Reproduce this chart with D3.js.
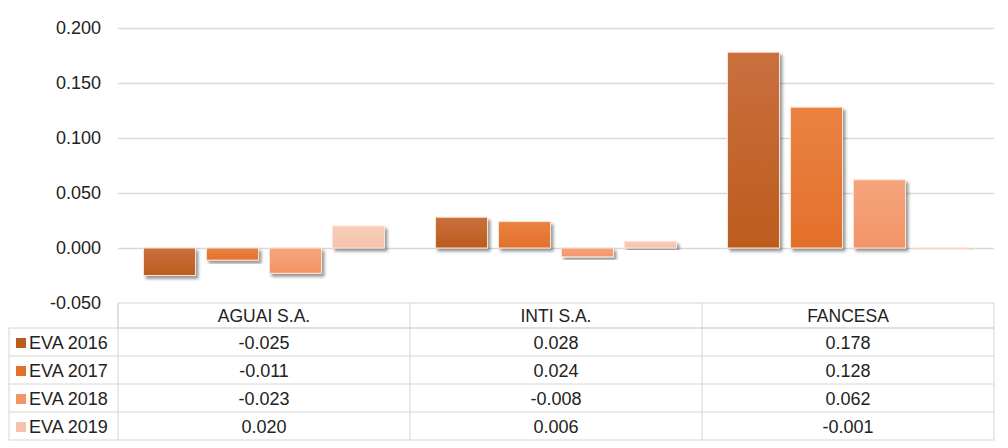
<!DOCTYPE html>
<html><head><meta charset="utf-8">
<script src="https://cdn.jsdelivr.net/npm/d3@7"></script>
<style>body{margin:0;background:#fff}svg{display:block;font-family:"Liberation Sans",Arial,sans-serif}</style>
</head><body><svg id="c" width="1008" height="448"></svg>
<script>
const categories = ["AGUAI S.A.", "INTI S.A.", "FANCESA"];
const seriesNames = ["EVA 2016", "EVA 2017", "EVA 2018", "EVA 2019"];
const eva2016 = [-0.025, 0.028, 0.178];
const eva2017 = [-0.011, 0.024, 0.128];
const eva2018 = [-0.023, -0.008, 0.062];
const eva2019 = [0.020, 0.006, -0.001];
const yTicks = [-0.05, 0, 0.05, 0.1, 0.15, 0.2];
const colors = ["#bc5c1e", "#e3702a", "#f39467", "#f5c2ab"];
const colorsLight = ["#c9703f", "#ea8242", "#f5a47d", "#f7cdb9"];

(function(){
const series = [eva2016, eva2017, eva2018, eva2019];
const svg = d3.select("#c");
const fmt = v => d3.format(".3f")(v).replace("\u2212", "-");
const pLeft = 118, pRight = 994, pTop = 28, pBottom = 303;
const x0 = d3.scaleBand().domain(categories).range([pLeft, pRight]);
const x1 = d3.scaleBand().domain(seriesNames).range([0, x0.bandwidth()]).paddingInner(0.175).paddingOuter(0.405);
const y = d3.scaleLinear().domain([-0.05, 0.2]).range([pBottom, pTop]);

const defs = svg.append("defs");
const f = defs.append("filter").attr("id","sh").attr("x","-20%").attr("y","-20%").attr("width","150%").attr("height","150%");
f.append("feDropShadow").attr("dx",2.5).attr("dy",3).attr("stdDeviation",1.8).attr("flood-color","#000").attr("flood-opacity",0.4);
colors.forEach((c,i)=>{
  const g = defs.append("linearGradient").attr("id","g"+i).attr("x1","0").attr("y1","0").attr("x2","0").attr("y2","1");
  g.append("stop").attr("offset","0").attr("stop-color",colorsLight[i]);
  g.append("stop").attr("offset","1").attr("stop-color",c);
});

const yAxis = d3.axisLeft(y).tickValues(yTicks).tickFormat(fmt).tickSize(-(pRight-pLeft)).tickPadding(17);
const ga = svg.append("g").attr("transform",`translate(${pLeft},0)`).call(yAxis);
ga.select(".domain").remove();
ga.selectAll(".tick line").attr("stroke","#d9d9d9").attr("stroke-width",1.3);
ga.selectAll(".tick").filter(d=>d===-0.05).select("line").remove();
ga.selectAll(".tick text").attr("font-size",18).attr("fill","#222").attr("font-family","Liberation Sans, Arial, sans-serif");

const data = [];
categories.forEach((c,ci)=>series.forEach((s,si)=>data.push({c, s:seriesNames[si], si, v:s[ci]})));
svg.append("g").selectAll("rect").data(data).join("rect")
  .attr("x", d=>x0(d.c)+x1(d.s))
  .attr("width", x1.bandwidth())
  .attr("y", d=>y(Math.max(0,d.v)))
  .attr("height", d=>Math.max(1.5, Math.abs(y(d.v)-y(0))))
  .attr("fill", d=>`url(#g${d.si})`)
  .attr("stroke", "#fde3d2").attr("stroke-width",1)
  .attr("filter","url(#sh)");

const rowH = 28, headTop = 303, headH = 25, tblLeft = 9;
const tg = svg.append("g");
const lineC = "#d6d6d6";
tg.append("rect").attr("x",pLeft).attr("y",headTop).attr("width",pRight-pLeft).attr("height",headH).attr("fill","none").attr("stroke",lineC);
tg.append("rect").attr("x",tblLeft).attr("y",headTop+headH).attr("width",pRight-tblLeft).attr("height",rowH*4).attr("fill","none").attr("stroke",lineC);
categories.forEach((c,ci)=>{
  if(ci>0) tg.append("line").attr("x1",x0(c)).attr("x2",x0(c)).attr("y1",headTop).attr("y2",headTop+headH+rowH*4).attr("stroke",lineC);
  tg.append("text").attr("x",x0(c)+x0.bandwidth()/2).attr("y",headTop+headH/2+6.5).attr("text-anchor","middle").attr("font-size",17.5).attr("fill","#222").text(c);
});
tg.append("line").attr("x1",pLeft).attr("x2",pLeft).attr("y1",headTop).attr("y2",headTop+headH+rowH*4).attr("stroke",lineC);
seriesNames.forEach((s,si)=>{
  const ry = headTop+headH+rowH*si;
  if(si>0) tg.append("line").attr("x1",tblLeft).attr("x2",pRight).attr("y1",ry).attr("y2",ry).attr("stroke",lineC);
  tg.append("rect").attr("x",16).attr("y",ry+rowH/2-4).attr("width",10).attr("height",10).attr("fill",colors[si]);
  tg.append("text").attr("x",29).attr("y",ry+rowH/2+6.5).attr("font-size",18).attr("fill","#222").text(s);
  categories.forEach((c,ci)=>{
    tg.append("text").attr("x",x0(c)+x0.bandwidth()/2).attr("y",ry+rowH/2+6.5).attr("text-anchor","middle").attr("font-size",18).attr("fill","#222").text(fmt(series[si][ci]));
  });
});
})();
</script></body></html>
